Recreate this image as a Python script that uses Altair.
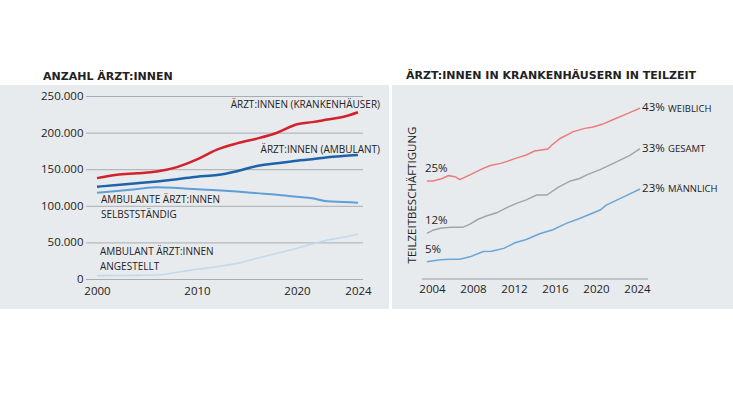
import altair as alt
import pandas as pd

FONT = "Open Sans"
TITLE_FONT = "DejaVu Sans"
INK = "#222222"
PANEL = "#e8ebee"
GRID = "#a9adb1"

# ---------------- Anzahl Ärzt:innen ----------------
jahre = [2000, 2002, 2004, 2006, 2008, 2010, 2012, 2014, 2016, 2018, 2020, 2021, 2022, 2023, 2024]
krankenhaus = [138500, 143000, 145000, 147500, 153500, 164000, 177500, 186000, 192500, 200500,
               212000, 215000, 218500, 222000, 228500]
ambulant = [126800, 129000, 131400, 134000, 137000, 140500, 142700, 148000, 155000, 158700,
            162300, 164200, 167000, 168700, 170000]
selbststaendig = [118600, 121000, 123500, 126000, 125000, 123300, 122000, 120200, 118000, 115800,
                  113000, 111000, 106800, 105900, 105000]
angestellt = [5200, 5400, 5700, 6100, 9800, 13900, 17500, 22000, 29000, 35800,
              42600, 48500, 54000, 57600, 61700]

anzahl_ticks = [0, 50000, 100000, 150000, 200000, 250000]
jahr_ticks = [2000, 2010, 2020, 2024]

# ---------------- Teilzeitquote in Krankenhäusern (%) ----------------
zeit_w = [2003.5, 2004.1, 2005.0, 2005.6, 2006.1, 2006.3, 2006.7, 2007.7, 2009.0, 2009.7, 2010.8,
          2011.4, 2012.3, 2013.2, 2014.0, 2014.5, 2015.3, 2015.7, 2016.5, 2017.8, 2018.9, 2019.6,
          2020.2, 2020.6, 2021.7, 2023.0, 2024.3]
weiblich = [25.0, 25.0, 25.6, 26.3, 26.1, 26.0, 25.3, 26.5, 28.1, 28.8, 29.4,
            29.9, 30.7, 31.4, 32.4, 32.6, 32.9, 33.9, 35.5, 37.2, 38.0, 38.3,
            38.7, 39.0, 40.2, 41.6, 43.0]

zeit_g = [2003.5, 2004.1, 2004.8, 2005.8, 2007.0, 2007.7, 2008.5, 2009.3, 2010.3, 2011.4, 2012.3,
          2013.2, 2014.2, 2015.2, 2016.3, 2017.5, 2018.4, 2019.1, 2020.4, 2022.0, 2023.3, 2024.3]
gesamt = [12.0, 12.8, 13.3, 13.5, 13.5, 14.3, 15.5, 16.3, 17.1, 18.5, 19.5,
          20.3, 21.5, 21.5, 23.4, 25.0, 25.6, 26.5, 27.8, 29.7, 31.3, 33.0]

zeit_m = [2003.5, 2004.8, 2005.8, 2006.7, 2007.7, 2009.0, 2009.8, 2011.0, 2012.1, 2013.2,
          2014.5, 2015.8, 2017.1, 2018.4, 2020.4, 2021.0, 2023.0, 2024.3]
maennlich = [5.0, 5.5, 5.6, 5.6, 6.2, 7.5, 7.6, 8.3, 9.7, 10.5,
             11.9, 12.9, 14.5, 15.7, 17.8, 19.0, 21.4, 23.0]

teilzeit_ticks = [2004, 2008, 2012, 2016, 2020, 2024]

one = pd.DataFrame({"k": [0]})


def note(txt, x, y, size, align="left", weight="normal", angle=0, font=FONT):
    return alt.Chart(one).mark_text(
        text=txt, align=align, baseline="middle", fontSize=size, font=font,
        fontWeight=weight, color=INK, angle=angle,
    ).encode(x=alt.value(x), y=alt.value(y))


def panel(x0, x1):
    return alt.Chart(one).mark_rect(color=PANEL).encode(
        x=alt.value(x0), x2=alt.value(x1), y=alt.value(85), y2=alt.value(309)
    )


# ---------- left panel: absolute numbers ----------
xs_left = alt.Scale(domain=[2000, 2020, 2024], range=[97, 297, 358], nice=False, zero=False)
ys_left = alt.Scale(domain=[0, 250000], range=[279.5, 96.5], nice=False, zero=False)
ax_left_x = alt.Axis(
    values=jahr_ticks, format="d", orient="bottom", offset=-134.5, domain=False, ticks=False,
    grid=False, labelPadding=6, labelFontSize=11.5, labelFont=FONT, labelColor=INK,
    labelFlush=False, labelOverlap=False, title=None, zindex=1,
)
ax_left_y = alt.Axis(
    values=anzahl_ticks, orient="left", offset=-86, domain=False, ticks=False, grid=False,
    labelPadding=3, labelFontSize=11.5, labelFont=FONT, labelColor=INK, labelOverlap=False,
    labelExpr="replace(format(datum.value, ','), ',', '.')", title=None, zindex=1,
)

grid_left = alt.Chart(pd.DataFrame({"wert": anzahl_ticks})).mark_rule(
    color=GRID, strokeWidth=1
).encode(
    y=alt.Y("wert:Q", scale=ys_left, axis=ax_left_y),
    x=alt.value(86), x2=alt.value(363),
)


def left_line(values, color, width):
    df = pd.DataFrame({"jahr": jahre, "wert": values})
    return alt.Chart(df).mark_line(color=color, strokeWidth=width, interpolate="monotone").encode(
        x=alt.X("jahr:Q", scale=xs_left, axis=ax_left_x),
        y=alt.Y("wert:Q", scale=ys_left, axis=ax_left_y),
    )


left = alt.layer(
    grid_left,
    left_line(angestellt, "#c3d9ee", 1.6),
    left_line(selbststaendig, "#5d9fd6", 2),
    left_line(ambulant, "#1d63a9", 2.5),
    left_line(krankenhaus, "#d3222a", 2.5),
    note("ÄRZT:INNEN (KRANKENHÄUSER)", 380, 105, 10, align="right"),
    note("ÄRZT:INNEN (AMBULANT)", 380, 149.5, 10, align="right"),
    note("AMBULANTE ÄRZT:INNEN", 101, 200, 10),
    note("SELBSTSTÄNDIG", 101, 215, 10),
    note("AMBULANT ÄRZT:INNEN", 100, 252, 10),
    note("ANGESTELLT", 100, 267, 10),
)

# ---------- right panel: part-time share ----------
xs_right = alt.Scale(domain=[2004, 2024], range=[432, 637], nice=False, zero=False)
ys_right = alt.Scale(domain=[0, 50], range=[281.9, 79.9], nice=False, zero=False)
ax_right_x = alt.Axis(
    values=teilzeit_ticks, format="d", orient="bottom", offset=-135, domain=False, ticks=False,
    grid=False, labelPadding=4, labelFontSize=11.5, labelFont=FONT, labelColor=INK,
    labelFlush=False, labelOverlap=False, title=None, zindex=1,
)

series = [
    ("WEIBLICH", zeit_w, weiblich, "#ec7b7e"),
    ("GESAMT", zeit_g, gesamt, "#a4a4a4"),
    ("MÄNNLICH", zeit_m, maennlich, "#68a6da"),
]

right_layers = [
    alt.Chart(one).mark_rule(color="#9a9a9a", strokeWidth=1).encode(
        x=alt.value(422), x2=alt.value(648), y=alt.value(279)
    )
]
for name, t, v, color in series:
    df = pd.DataFrame({"t": t, "v": v})
    right_layers.append(
        alt.Chart(df).mark_line(color=color, strokeWidth=1.5).encode(
            x=alt.X("t:Q", scale=xs_right, axis=ax_right_x),
            y=alt.Y("v:Q", scale=ys_right, axis=None),
        )
    )

start_df = pd.DataFrame({
    "t": [s[1][0] for s in series],
    "v": [s[2][0] for s in series],
    "pct": [f"{round(s[2][0])}%" for s in series],
})
end_df = pd.DataFrame({
    "t": [s[1][-1] for s in series],
    "v": [s[2][-1] for s in series],
    "pct": [f"{round(s[2][-1])}%" for s in series],
    "name": [s[0] for s in series],
})

enc_r = dict(
    x=alt.X("t:Q", scale=xs_right, axis=ax_right_x),
    y=alt.Y("v:Q", scale=ys_right, axis=None),
)
right_layers += [
    alt.Chart(start_df).mark_text(
        align="left", baseline="middle", dx=-2, dy=-12, fontSize=11.5, font=FONT, color=INK
    ).encode(text="pct:N", **enc_r),
    alt.Chart(end_df).mark_text(
        align="left", baseline="middle", dx=2, dy=0, fontSize=11.5, font=FONT, color=INK
    ).encode(text="pct:N", **enc_r),
    alt.Chart(end_df).mark_text(
        align="left", baseline="middle", dx=28, dy=0.5, fontSize=9.5, font=FONT, color=INK
    ).encode(text="name:N", **enc_r),
    note("TEILZEITBESCHÄFTIGUNG", 413, 195, 11.5, align="center", angle=270),
]
right = alt.layer(*right_layers)

chart = alt.layer(
    panel(0, 389),
    panel(392, 733),
    note("ANZAHL ÄRZT:INNEN", 43, 77, 11, weight="bold", font=TITLE_FONT),
    note("ÄRZT:INNEN IN KRANKENHÄUSERN IN TEILZEIT", 406, 76, 11, weight="bold", font=TITLE_FONT),
    left,
    right,
).resolve_scale(
    x="independent", y="independent"
).properties(
    width=733, height=414, autosize=alt.AutoSizeParams(type="none"), padding=0,
    background="white",
).configure_view(stroke=None)

chart.save("out.html", embed_options={"renderer": "svg", "actions": False})
